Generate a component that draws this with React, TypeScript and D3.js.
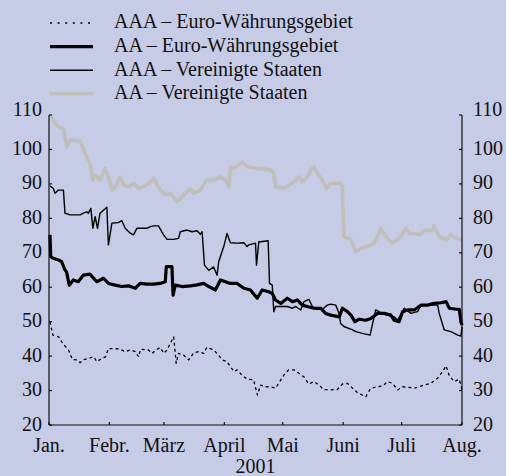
import React from 'react';
import * as d3 from 'd3';

const width = 506;
const height = 476;
const margin = { top: 115, right: 44, bottom: 51, left: 49 };

// days counted from 1 Jan 2001
const aaaEuroDays = [0.5, 2, 5, 7, 10, 12, 14, 16, 18, 20, 23, 24.5, 27, 29, 30.5, 34, 36.5, 39, 41.7, 44.3, 46, 47, 51, 53, 54.5, 57, 59, 60.6, 62.3, 64, 65.3, 66.5, 69, 71.7, 74.3, 77, 79.4, 81, 84.5, 87, 89, 91.4, 93, 95, 96.6, 99, 101.7, 105, 107, 108.6, 111, 113.7, 116.3, 119, 120.6, 123, 125.7, 128.3, 131, 133.4, 136, 138.6, 141, 144.6, 148, 150.6, 153.2, 155.8, 158.3, 162.6, 165.2, 168.6, 171.2, 173.8, 176.3, 179, 181.5, 185, 187.5, 190, 192.6, 196, 199.5, 202, 203.8, 205.5, 208, 210.6, 212];
const aaaEuroValues = [50, 46.1, 45.6, 43.7, 41.8, 39, 38.9, 38.1, 39, 39.3, 39.8, 38.4, 39.3, 39.8, 42.2, 42.2, 42, 41.3, 41.8, 41.3, 39.8, 42, 41.8, 40.8, 41.6, 42.5, 40.8, 41.8, 43.7, 45.6, 37.9, 40.8, 40.3, 38.9, 41, 41.3, 40.8, 42.5, 41.8, 40.3, 38.9, 38.4, 37, 35.5, 36, 34.5, 33.3, 33.1, 28.7, 31.6, 31.1, 31.1, 30.7, 33.1, 34.5, 36, 36, 35, 33.9, 31.9, 32.6, 31.6, 30.3, 30.2, 30.3, 31.9, 32.1, 30.7, 29.4, 28.2, 30.7, 31.1, 31.3, 32.6, 32.1, 30.2, 31.1, 30.9, 30.7, 31.1, 31.6, 32.1, 33.6, 35.5, 37.2, 34.3, 32.6, 33.3, 30.2];

const aaEuroDays = [0.5, 0.9, 2, 5, 6.5, 8.2, 9, 10.4, 12.5, 15, 17.6, 21, 24.5, 28, 30.5, 34, 37.4, 40.8, 44.3, 46.8, 50.3, 53.7, 57, 59.7, 60.2, 63.1, 63.7, 64.8, 68.3, 72.6, 76, 79.4, 82, 85.4, 88, 90.6, 93, 96.6, 100, 103.4, 106.9, 109.4, 112.8, 114.6, 116.3, 119, 122.3, 125, 127.5, 130, 132.6, 136, 139.4, 142, 144.6, 149, 150.6, 153.2, 155, 157, 159.2, 162.6, 165.2, 168.6, 172, 175.5, 177.2, 179.7, 181.5, 184, 187.5, 191, 194.3, 197.7, 201.2, 203.8, 205.5, 209, 210.6, 211.5, 212];
const aaEuroValues = [75.2, 68.9, 68.4, 67.9, 67.4, 65, 64.5, 60.6, 62.1, 61.6, 63.5, 63.8, 61.6, 62.6, 61.1, 60.6, 60.2, 60.4, 59.7, 61.1, 60.9, 60.9, 61.1, 61.6, 66, 66, 57.7, 60.6, 60.2, 60.4, 60.7, 61.1, 60.2, 59.2, 62.1, 61.6, 61.1, 61.1, 59.7, 59.2, 56.8, 59.2, 58.7, 58.2, 56.3, 55.3, 56.8, 55.8, 56.3, 54.8, 54.4, 53.9, 53.9, 52.4, 51.9, 51.4, 53.9, 52.9, 51.9, 50, 50.7, 50.4, 50.9, 52.4, 52.4, 51.9, 50.4, 50, 52.9, 53.4, 53.4, 54.8, 54.8, 55.3, 55.5, 55.8, 53.9, 53.6, 53.6, 50, 49];

const aaaUsDays = [0.5, 2.2, 3.1, 4.8, 7.4, 8.2, 10.8, 16, 17.6, 19.4, 20.2, 21.5, 22.5, 23.7, 24.9, 26.2, 29.7, 30.5, 32.3, 35.7, 37.4, 39.1, 41.7, 43.4, 45.1, 50.3, 52, 53.7, 56.2, 58.8, 60.6, 64, 66.5, 67.4, 70.9, 73.4, 76, 77.7, 78.6, 79.8, 82, 84.5, 86.3, 87.1, 89.7, 91.4, 93.1, 96.6, 100, 101.7, 102.6, 106, 106.5, 107.7, 108.6, 112.5, 113.2, 114.6, 115.4, 116.3, 119.7, 122.3, 124.9, 126.6, 129.2, 130.9, 133.4, 135.2, 136.9, 140.3, 142.9, 144.6, 147.2, 148.9, 149.7, 151.4, 155.8, 157.5, 160.9, 164.8, 167.7, 170.3, 173.8, 177.2, 178.9, 182.3, 185.8, 189.2, 190.9, 196, 199.5, 200.3, 202.9, 206.3, 209.8, 211.5, 212];
const aaaUsValues = [89.4, 88.7, 87.3, 88.2, 88.2, 81.5, 81, 81, 81.5, 81.9, 81.5, 82.9, 77.1, 80.5, 77.1, 81.5, 83.2, 72.3, 78.6, 78.8, 79.3, 77.1, 75.7, 75.2, 77.1, 77.1, 77.6, 77.8, 77.8, 75.2, 73.9, 73.9, 74.2, 76.1, 76.6, 76.1, 76.4, 75.4, 76.1, 66.4, 64.9, 65.9, 63.5, 67.4, 71.8, 75.6, 72.9, 72.8, 72.9, 71.8, 72.3, 72.8, 66.4, 73.2, 73.2, 73.5, 61.1, 60.6, 52.9, 54.4, 54.4, 54.4, 53.9, 54.4, 53.4, 55.8, 56.5, 54.4, 53.6, 53.6, 54.8, 55.1, 54.8, 52.4, 49.5, 48.6, 47.6, 47.1, 46.6, 46.1, 53.4, 52.6, 51.9, 51.4, 50.4, 53.9, 52.4, 52.9, 54.8, 54.8, 54.8, 52.4, 47.6, 47.1, 46.1, 45.8, 48.5];

const aaUsDays = [1, 2.2, 4.8, 7.4, 9.1, 10.8, 16, 18.5, 21, 22.5, 23.7, 26.2, 28.8, 30.5, 32.3, 34.8, 36.5, 38.2, 40.8, 43.4, 46, 48.5, 51.1, 53.7, 57.1, 59.7, 62.3, 65.7, 68.3, 72.6, 74.3, 77.7, 81.1, 84.5, 88, 90.6, 92.3, 93.1, 94.8, 99.2, 101.7, 106.9, 108.6, 113.7, 115.3, 116.3, 120.6, 122.3, 125.7, 128.3, 130, 132.6, 134.3, 136, 137.7, 140.3, 142.5, 144.6, 149.7, 150.6, 151.4, 154.9, 157.5, 160, 163.5, 166.9, 168.6, 170.3, 172.9, 176.3, 178.9, 181.5, 183.2, 184.9, 190.9, 192.6, 196.9, 197.7, 200.3, 203.8, 206.3, 208.9, 212];
const aaUsValues = [109.5, 108.5, 106.6, 106, 100.8, 102.7, 102.5, 98.9, 96, 91.1, 92.6, 91.1, 94.5, 92, 88.2, 89.7, 92, 89.7, 89.2, 90.2, 88.7, 89.2, 90.2, 91.6, 88.2, 86.8, 87.3, 84.8, 86.3, 88.7, 87.3, 88.2, 91.1, 91.1, 92, 91.1, 89.2, 95, 94.5, 96.4, 95, 94.5, 94.5, 94, 93.1, 89.2, 88.7, 89.2, 90.6, 92, 90.6, 92, 94, 95, 93.1, 91.1, 88.7, 90.2, 90.2, 89.2, 74.7, 73.9, 70.3, 71.3, 71.8, 72.8, 74.7, 77.1, 74.7, 72.8, 73.7, 75.6, 77.1, 75.6, 75.4, 76.6, 76.4, 77.8, 74.7, 73.7, 75.4, 74.2, 73.7];

const monthLabels = ['Jan.', 'Febr.', 'März', 'April', 'Mai', 'Juni', 'Juli', 'Aug.'];
const yTicks = [20, 30, 40, 50, 60, 70, 80, 90, 100, 110];
const yearLabel = '2001';

const series = [
  { name: 'AAA – Euro-Währungsgebiet', days: aaaEuroDays, values: aaaEuroValues, stroke: '#000', sw: 1.3, dash: '3,3' },
  { name: 'AA – Euro-Währungsgebiet', days: aaEuroDays, values: aaEuroValues, stroke: '#000', sw: 3.2, dash: null },
  { name: 'AAA – Vereinigte Staaten', days: aaaUsDays, values: aaaUsValues, stroke: '#000', sw: 1.4, dash: null },
  { name: 'AA – Vereinigte Staaten', days: aaUsDays, values: aaUsValues, stroke: '#c0bfba', sw: 3.6, dash: null },
];
const drawOrder = [3, 0, 1, 2];

const font = "'Liberation Serif', 'Times New Roman', Times, serif";
const bg = '#c6cbe6';

export default function App() {
  const start = Date.UTC(2001, 0, 1);
  const dayDate = (d: number) => new Date(start + d * 864e5);
  const x = d3.scaleUtc()
    .domain([new Date(start), new Date(Date.UTC(2001, 7, 1))])
    .range([margin.left, width - margin.right]);
  const y = d3.scaleLinear()
    .domain([20, 110])
    .range([height - margin.bottom, margin.top]);
  const months = d3.utcMonth.range(new Date(start), new Date(Date.UTC(2001, 7, 2)));

  const line = d3.line<[number, number]>()
    .x(d => x(dayDate(d[0])))
    .y(d => y(d[1]));

  const x0 = margin.left;
  const x1 = width - margin.right;
  const yb = height - margin.bottom;
  const txt = { fontFamily: font, fontSize: '20px' };

  return (
    <svg width={width} height={height} style={{ position: 'absolute', left: 0, top: 0, background: bg }}>
      <rect width={width} height={height} fill={bg} />

      {/* legend */}
      {series.map((s, i) => {
        const ry = 21.8 + 23.6 * i;
        return (
          <g key={s.name}>
            <line x1={50} x2={93} y1={ry + 1.2} y2={ry + 1.2} stroke={s.stroke}
              strokeWidth={s.dash ? 1.4 : s.sw} strokeDasharray={s.dash ? '2,5.6' : undefined} />
            <text x={114} y={ry + 6.6} style={txt} fill="#111">{s.name}</text>
          </g>
        );
      })}

      {/* series */}
      {drawOrder.map(i => {
        const s = series[i];
        const pts = s.days.map((d, j) => [d, s.values[j]] as [number, number]);
        return (
          <path key={s.name} d={line(pts) ?? ''} fill="none" stroke={s.stroke} strokeWidth={s.sw}
            strokeLinejoin="round" strokeDasharray={s.dash ?? undefined} />
        );
      })}

      {/* axes */}
      <g stroke="#111" strokeWidth={1.2}>
        <line x1={x0} x2={x0} y1={margin.top} y2={yb} />
        <line x1={x1} x2={x1} y1={margin.top} y2={yb} />
        <line x1={x0} x2={x1} y1={yb} y2={yb} />
        {yTicks.map(t => (
          <g key={t}>
            <line x1={x0} x2={x0 + 3} y1={y(t)} y2={y(t)} />
            <line x1={x1 - 3} x2={x1} y1={y(t)} y2={y(t)} />
          </g>
        ))}
        {months.map(m => (
          <line key={+m} x1={x(m)} x2={x(m)} y1={yb} y2={yb - 3} />
        ))}
      </g>
      <g fill="#111">
        {yTicks.map(t => {
          const off = t === 110 ? -6 : -1;
          return (
            <g key={t}>
              <text x={x0 - 7} y={y(t) + off} dy="0.33em" textAnchor="end" style={txt}>{t}</text>
              <text x={x1 + 11} y={y(t) + off} dy="0.33em" style={txt}>{t}</text>
            </g>
          );
        })}
        {months.map((m, i) => (
          <text key={+m} x={x(m)} y={452} textAnchor="middle" style={txt}>{monthLabels[i]}</text>
        ))}
        <text x={(x0 + x1) / 2} y={473} textAnchor="middle" style={txt}>{yearLabel}</text>
      </g>
    </svg>
  );
}
